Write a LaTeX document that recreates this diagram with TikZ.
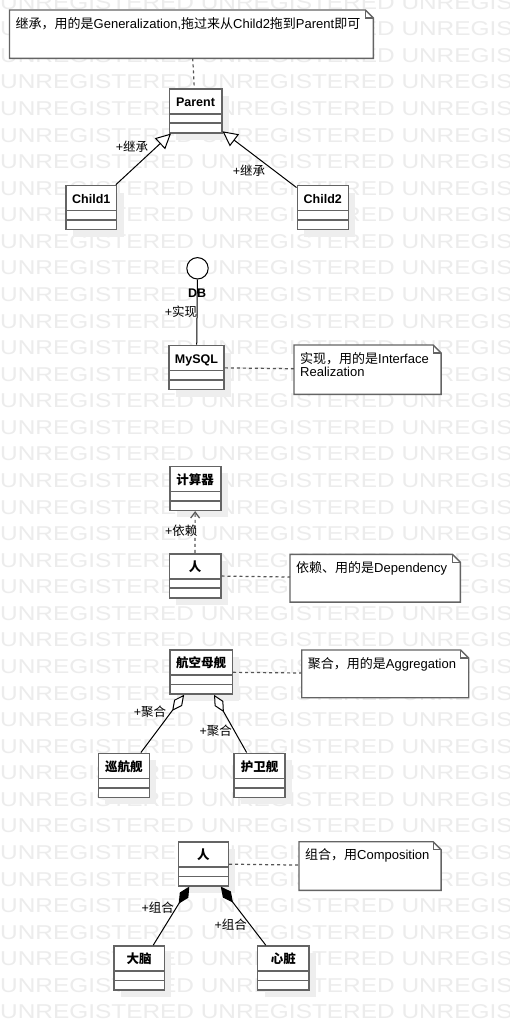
\documentclass[tikz,border=0pt]{standalone}
\usepackage{fontspec}
\setmainfont{Liberation Sans}
\newfontfamily\cjk{Noto Sans CJK SC}
\usetikzlibrary{arrows.meta,shadows}

\definecolor{boxgray}{RGB}{100,100,100}
\definecolor{linkgray}{RGB}{85,85,85}
\definecolor{markgray}{RGB}{236,236,236}
\definecolor{shadegray}{RGB}{238,238,238}

\tikzset{
  watermark/.style={anchor=west, inner sep=0pt, text=markgray,
    font=\fontsize{20}{20}\selectfont, xscale=1.22, transform shape},
  umlclass/.style={draw=boxgray, line width=1.6pt, fill=white,
    minimum width=#1, minimum height=44pt, inner sep=0pt,
    font=\bfseries\fontsize{12.5}{12.5}\selectfont,
    text height=9pt, text depth=17.4pt,
    drop shadow={shadow xshift=7pt, shadow yshift=-7pt, fill=shadegray, opacity=1},
    path picture={
      \draw[boxgray, line width=1.6pt]
        ([yshift=-25pt]path picture bounding box.north west) -- ([yshift=-25pt]path picture bounding box.north east)
        ([yshift=-34.5pt]path picture bounding box.north west) -- ([yshift=-34.5pt]path picture bounding box.north east);
    }},
  notebox/.style={anchor=north west, inner xsep=6pt, inner ysep=7pt,
    font=\fontsize{13}{13}\selectfont,
    append after command={\pgfextra{
      \filldraw[fill=white, draw=boxgray, line width=1.4pt]
        (\tikzlastnode.north west) -- ([xshift=-8pt]\tikzlastnode.north east)
        -- ([yshift=-8pt]\tikzlastnode.north east) -- (\tikzlastnode.south east)
        -- (\tikzlastnode.south west) -- cycle;
      \draw[boxgray, line width=1.2pt]
        ([xshift=-8pt]\tikzlastnode.north east) |- ([yshift=-8pt]\tikzlastnode.north east);
    }}},
  rolelabel/.style={inner sep=0pt, font=\fontsize{12.5}{12.5}\selectfont},
  notelink/.style={linkgray, line width=1.2pt, dash pattern=on 3pt off 3pt},
  genline/.style={line width=1pt, -{Triangle[length=15pt, width=15pt, fill=white]}},
  depline/.style={linkgray, line width=1.2pt, dash pattern=on 3pt off 3pt,
    -{Straight Barb[length=6pt, width=9pt]}},
  aggline/.style={line width=1pt, -{Diamond[length=20pt, width=10pt, fill=white]}},
  compline/.style={line width=1pt, -{Diamond[length=20pt, width=10pt]}},
}

\begin{document}
\begin{tikzpicture}[x=1pt, y=-1pt]
  \useasboundingbox (0,0) rectangle (509,1030);
  \fill[white] (0,0) rectangle (509,1030);
  % Watermark
  \foreach \j in {0,...,38}
    \node[watermark] (wm\j) at (0,2.3+26.57*\j) {UNREGISTERED UNREGISTERED UNREGISTERED};

  % Generalization
  \node[notebox] (note1) at (9.5,10) {\parbox[t][34pt][t]{351.5pt}{{\cjk 继承，用的是}Generalization,{\cjk 拖过来从}Child2{\cjk 拖到}Parent{\cjk 即可}}};
  \node[umlclass=52.4pt] (parent) at (195.5,110.8) {Parent};
  \node[umlclass=50.7pt] (child1) at (91.3,207.5) {Child1};
  \node[umlclass=51pt] (child2) at (322.8,207.5) {Child2};
  \draw[notelink] (note1) -- (parent);
  \draw[genline] (child1) -- (parent);
  \draw[genline] (child2) -- (parent);
  \node[rolelabel] (gen1) at (132,146.7) {+{\cjk 继承}};
  \node[rolelabel] (gen2) at (249,170.5) {+{\cjk 继承}};

  % Realization
  \node[circle, draw=black, line width=1pt, fill=white, minimum size=21.4pt, inner sep=0pt] (db) at (197.5,268.3) {};
  \node[rolelabel, font=\bfseries\fontsize{12.5}{12.5}\selectfont] (dbname) at (197.2,293) {DB};
  \node[umlclass=55pt] (mysql) at (196.5,367.5) {MySQL};
  \node[notebox] (note2) at (294,345) {\parbox[t][35pt][t]{134.7pt}{{\cjk 实现，用的是}Interface\\Realization}};
  \draw[line width=1pt] (db) -- (mysql);
  \draw[notelink] (mysql) -- (note2);
  \node[rolelabel] (real1) at (181,311.5) {+{\cjk 实现}};

  % Dependency
  \node[umlclass=51pt] (calc) at (195.2,488.3) {\cjk 计算器};
  \node[umlclass=51.4pt] (person) at (195,575.7) {\cjk 人};
  \node[notebox] (note3) at (290,554.3) {\parbox[t][33.4pt][t]{158pt}{{\cjk 依赖、用的是}Dependency}};
  \draw[depline] (person) -- (calc);
  \draw[notelink] (person) -- (note3);
  \node[rolelabel] (dep1) at (181.2,531) {+{\cjk 依赖}};

  % Aggregation
  \node[umlclass=62.3pt] (carrier) at (201.2,672) {\cjk 航空母舰};
  \node[umlclass=51pt] (cruiser) at (123.8,775.3) {\cjk 巡航舰};
  \node[umlclass=51pt] (escort) at (259.5,775.3) {\cjk 护卫舰};
  \node[notebox] (note4) at (301.7,650) {\parbox[t][33.3pt][t]{154.6pt}{{\cjk 聚合，用的是}Aggregation}};
  \draw[notelink] (carrier) -- (note4);
  \draw[aggline] (cruiser) -- (carrier);
  \draw[aggline] (escort) -- (carrier);
  \node[rolelabel] (agg1) at (150,712) {+{\cjk 聚合}};
  \node[rolelabel] (agg2) at (215.8,730.5) {+{\cjk 聚合}};

  % Composition
  \node[umlclass=50pt] (human) at (203.3,863.8) {\cjk 人};
  \node[umlclass=50.3pt] (brain) at (139.2,968) {\cjk 大脑};
  \node[umlclass=51.3pt] (heart) at (283.3,968) {\cjk 心脏};
  \node[notebox] (note5) at (299,841.7) {\parbox[t][34.3pt][t]{129.7pt}{{\cjk 组合，用}Composition}};
  \draw[notelink] (human) -- (note5);
  \draw[compline] (brain) -- (human);
  \draw[compline] (heart) -- (human);
  \node[rolelabel] (comp1) at (157.8,908) {+{\cjk 组合}};
  \node[rolelabel] (comp2) at (230.8,924.7) {+{\cjk 组合}};
\end{tikzpicture}
\end{document}
